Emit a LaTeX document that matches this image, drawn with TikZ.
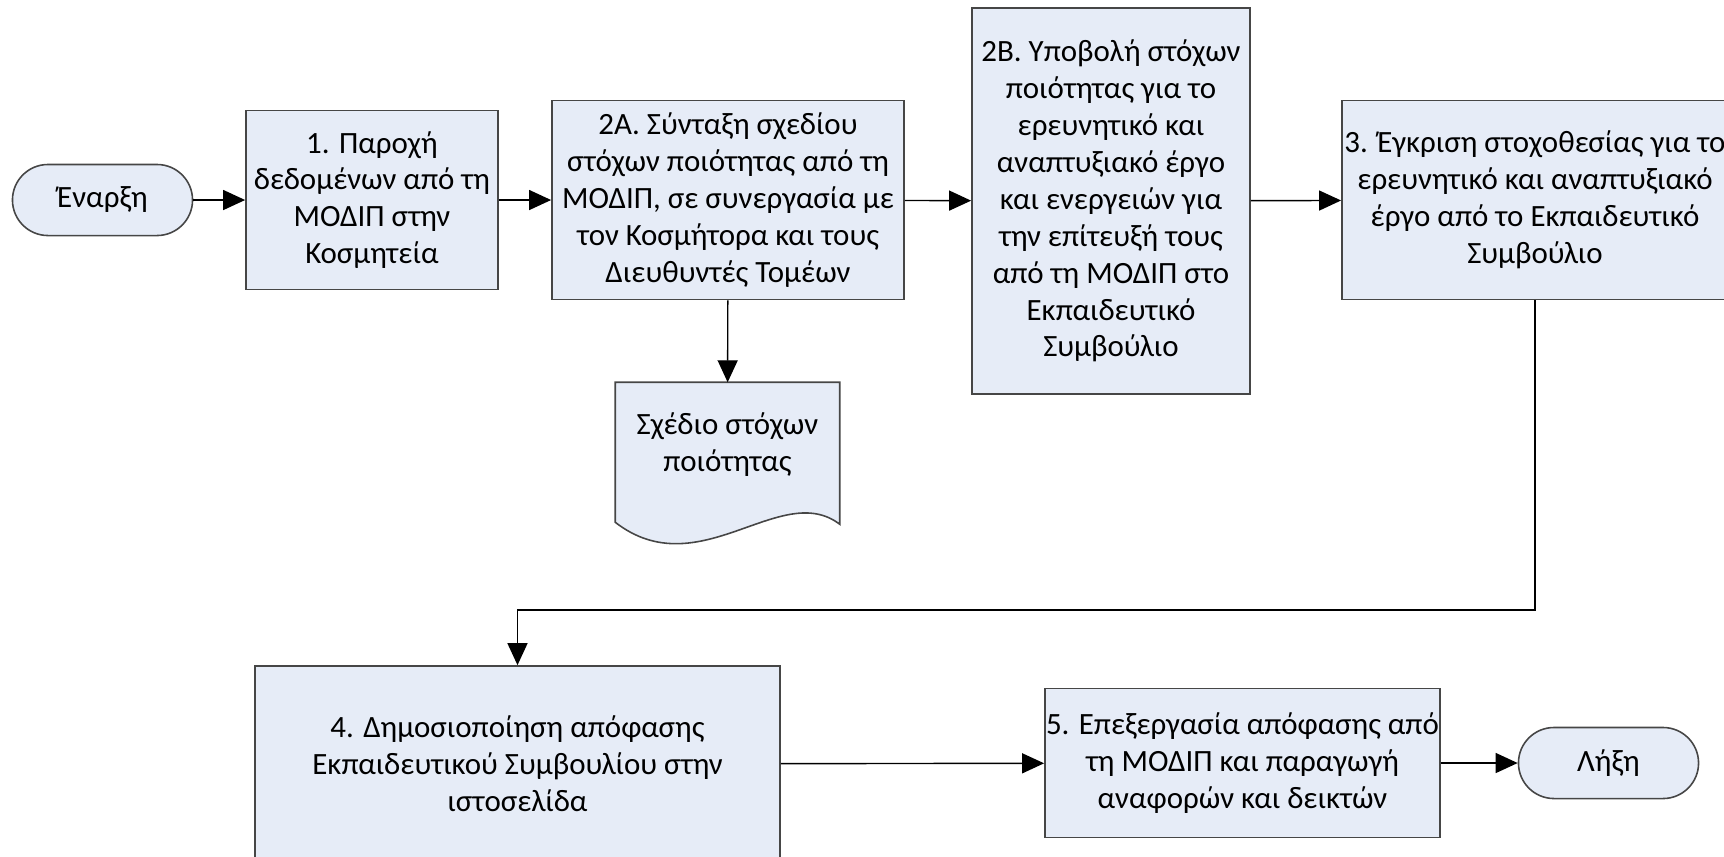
\documentclass[tikz,border=0pt]{standalone}
\usepackage{fontspec}
\setmainfont{Carlito}
\usepackage{xcolor}
\usetikzlibrary{arrows.meta,positioning,backgrounds,calc}

\definecolor{boxfill}{RGB}{230,236,247}
\definecolor{boxline}{RGB}{70,70,70}

\tikzset{
  stepbox/.style={draw=boxline, fill=boxfill, line width=0.45pt, inner sep=0pt, align=center, font=\fontsize{8.8}{10.5}\selectfont},
  terminal/.style={stepbox, rounded corners=0.355cm, minimum width=1.8cm, minimum height=0.71cm},
  flow/.style={-{Triangle[length=0.22cm,width=0.2cm]}, line width=0.4pt},
}

\begin{document}
\begin{tikzpicture}[x=0.01cm,y=-0.01cm]
\useasboundingbox (0,0) rectangle (1724,856);
\clip (0,0) rectangle (1724,856);

% Top row
\node[terminal] (start) at (102.5,200) {Έναρξη};
\node[stepbox, minimum width=2.52cm, minimum height=1.79cm] (box1) at (372,200) {1. Παροχή\\δεδομένων από τη\\ΜΟΔΙΠ στην\\Κοσμητεία};
\node[stepbox, minimum width=3.52cm, minimum height=1.99cm] (box2a) at (728,200) {2Α. Σύνταξη σχεδίου\\στόχων ποιότητας από τη\\ΜΟΔΙΠ, σε συνεργασία με\\τον Κοσμήτορα και τους\\Διευθυντές Τομέων};
\node[stepbox, minimum width=2.78cm, minimum height=3.86cm] (box2b) at (1111,201) {2Β. Υποβολή στόχων\\ποιότητας για το\\ερευνητικό και\\αναπτυξιακό έργο\\και ενεργειών για\\την επίτευξή τους\\από τη ΜΟΔΙΠ στο\\Εκπαιδευτικό\\Συμβούλιο};
\node[stepbox, minimum width=3.86cm, minimum height=1.99cm] (box3) at (1535,200) {3. Έγκριση στοχοθεσίας για το\\ερευνητικό και αναπτυξιακό\\έργο από το Εκπαιδευτικό\\Συμβούλιο};

% Document
\node[inner sep=0pt, align=center, font=\fontsize{8.8}{10.5}\selectfont, minimum width=2.23cm, minimum height=1.24cm] (doc) at (727.5,445) {Σχέδιο στόχων\\ποιότητας};
\begin{scope}[on background layer]
\filldraw[draw=boxline, fill=boxfill, line width=0.45pt] (doc.north west) -- (doc.north east) -- ++(0,142) .. controls +(-59,-45) and +(84,65) .. ($(doc.north west)+(0,140)$) -- cycle;
\end{scope}

% Bottom row
\node[stepbox, minimum width=5.25cm, minimum height=1.96cm] (box4) at (517.5,764) {4. Δημοσιοποίηση απόφασης\\Εκπαιδευτικού Συμβουλίου στην\\ιστοσελίδα};
\node[stepbox, minimum width=3.95cm, minimum height=1.49cm] (box5) at (1242.5,763) {5. Επεξεργασία απόφασης από\\τη ΜΟΔΙΠ και παραγωγή\\αναφορών και δεικτών};
\node[terminal] (end) at (1608.5,763) {Λήξη};

% Connectors
\draw[flow] (start) -- (box1);
\draw[flow] (box1) -- (box2a);
\draw[flow] (box2a) -- (box2b);
\draw[flow] (box2b) -- (box3);
\draw[flow] (box2a) -- (doc);
\coordinate (turn) at (1535,610);
\draw[flow] (box3) -- (turn) -| (box4);
\draw[flow] (box4) -- (box5);
\draw[flow] (box5) -- (end);

\end{tikzpicture}
\end{document}
